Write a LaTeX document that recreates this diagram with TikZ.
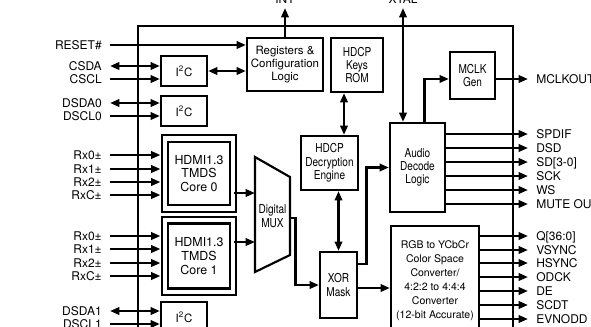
\documentclass[tikz,border=0pt]{standalone}
\usepackage{fontspec}
\setmainfont{TeX Gyre Heros}
\newfontfamily\narrowfont[FakeStretch=0.82]{TeX Gyre Heros}
\usetikzlibrary{arrows.meta}

\begin{document}
\begin{tikzpicture}[x=0.75pt,y=-0.75pt,
  blk/.style={draw,line width=1.6pt,align=center,inner sep=0pt,font=\fontsize{8.6}{10}\selectfont},
  nblk/.style={blk,font=\narrowfont\fontsize{9.2}{10}\selectfont},
  core/.style={draw,line width=1.6pt,double,double distance=3.2pt,align=center,inner sep=0pt,
    font=\fontsize{9.3}{10.4}\selectfont},
  lbl/.style={inner sep=6pt,text height=6.5pt,text depth=0pt,font=\fontsize{9}{9}\selectfont},
  sig/.style={line width=2.2pt,-{Triangle[length=7pt,width=5.5pt]}},
  bus/.style={line width=2.2pt,{Triangle[length=7pt,width=5.5pt]}-{Triangle[length=7pt,width=5.5pt]}},
  rx/.style={sig,shorten >=2.6pt}]
  \useasboundingbox (0,0) rectangle (591,326);
  \clip (0,0) rectangle (591,326);
  % chip outline
  \draw[line width=1.2pt] (138,26) rectangle (513,345);
  % blocks
  \node[blk,minimum width=57pt,minimum height=39.75pt] (regs) at (285,64.5) {Registers \&\\Configuration\\Logic};
  \node[nblk,minimum width=39pt,minimum height=40.5pt] (keys) at (357,65) {HDCP\\Keys\\ROM};
  \node[blk,minimum width=34.5pt,minimum height=22.5pt] (i2ca) at (184,71) {I\textsuperscript{2}C};
  \node[blk,minimum width=34.5pt,minimum height=22.5pt] (i2cb) at (184,111) {I\textsuperscript{2}C};
  \node[blk,minimum width=34.5pt,minimum height=22.5pt] (i2cc) at (184,317) {I\textsuperscript{2}C};
  \node[core,minimum width=51pt,minimum height=52.5pt] (core0) at (199,173.5) {HDMI1.3\\TMDS\\Core 0};
  \node[core,minimum width=51pt,minimum height=53.6pt] (core1) at (199,256) {HDMI1.3\\TMDS\\Core 1};
  \node[nblk,minimum width=42.75pt,minimum height=40.5pt] (dec) at (329.5,163) {HDCP\\Decryption\\Engine};
  \node[nblk,minimum width=27.75pt,minimum height=49.5pt] (xor) at (338.5,285) {XOR\\Mask};
  \node[nblk,minimum width=41.25pt,minimum height=66.75pt] (audio) at (417.5,167.5) {Audio\\Decode\\Logic};
  \node[nblk,minimum width=33.75pt,minimum height=35.25pt] (mclk) at (472.5,75.5) {MCLK\\Gen};
  \node[blk,font=\fontsize{7.9}{10.5}\selectfont,minimum width=66pt,minimum height=82.5pt] (rgb) at (435,281)
    {RGB to YCbCr\\Color Space\\Converter/\\4:2:2 to 4:4:4\\Converter\\(12-bit Accurate)};
  % digital mux
  \draw[line width=1.6pt] (255,157) -- (290,177) -- (290,255) -- (255,272) -- cycle;
  \node[align=center,font=\narrowfont\fontsize{9.2}{10}\selectfont] (mux) at (272.5,216) {Digital\\MUX};
  \coordinate (muxin0) at (255,193);
  \coordinate (muxin1) at (255,242);
  \coordinate (muxout) at (290,218);
  % pins, left side
  \foreach \nm/\txt/\y in {reset/RESET\#/45, csda/CSDA/66, cscl/CSCL/79, dsda0/DSDA0/103, dscl0/DSCL0/116,
      rxa0/Rx0±/155, rxa1/Rx1±/169, rxa2/Rx2±/182, rxac/RxC±/195,
      rxb0/Rx0±/236, rxb1/Rx1±/249, rxb2/Rx2±/263, rxbc/RxC±/276, dsda1/DSDA1/311, dscl1/DSCL1/324}
    \node[lbl,anchor=east] (\nm) at (110,\y) {\txt};
  % pins, right side
  \foreach \nm/\txt/\y in {mclkout/MCLKOUT/79, spdif/SPDIF/134, dsd/DSD/148, sd/{SD[3-0]}/162, sck/SCK/176,
      ws/WS/190, mute/MUTE OUT/204, q/{Q[36:0]}/236, vsync/VSYNC/250, hsync/HSYNC/263, odck/ODCK/277,
      de/DE/291, scdt/SCDT/305, evnodd/EVNODD/319}
    \node[lbl,anchor=west] (\nm) at (528,\y) {\txt};
  % pins, top
  \node[lbl,anchor=south,inner sep=3pt] (int) at (285,8) {INT};
  \node[lbl,anchor=south,inner sep=3pt] (xtal) at (403,8) {XTAL};
  % inputs
  \draw[sig] (reset.east) -- (regs.west |- reset.east);
  \draw[bus] (csda.east) -- (i2ca.west |- csda.east);
  \draw[sig] (cscl.east) -- (i2ca.west |- cscl.east);
  \draw[bus] (dsda0.east) -- (i2cb.west |- dsda0.east);
  \draw[sig] (dscl0.east) -- (i2cb.west |- dscl0.east);
  \draw[bus] (dsda1.east) -- (i2cc.west |- dsda1.east);
  \draw[sig] (dscl1.east) -- (i2cc.west |- dscl1.east);
  \foreach \nm in {rxa0,rxa1,rxa2,rxac}
    \draw[rx] (\nm.east) -- (core0.west |- \nm.east);
  \foreach \nm in {rxb0,rxb1,rxb2,rxbc}
    \draw[rx] (\nm.east) -- (core1.west |- \nm.east);
  % internal paths
  \draw[bus] (i2ca.east) -- (regs.west |- i2ca.east);
  \draw[sig] (regs.north) -- (int.south);
  \draw[bus] (xtal.south |- audio.north) -- (xtal.south);
  \draw[bus] ([xshift=-9.75pt]keys.south) -- ([xshift=-9.75pt]keys.south |- dec.north);
  \draw[bus] (xor.north |- dec.south) -- (xor.north);
  \draw[sig] (core0.east |- muxin0) -- (muxin0);
  \draw[sig] (core1.east |- muxin1) -- (muxin1);
  \draw[sig] (muxout) -| ([xshift=-17.25pt]xor.west) -- (xor.west);
  \draw[sig] ([yshift=15.75pt]xor.east) -| ([xshift=-16.5pt]audio.west) -- (audio.west);
  \draw[sig] ([yshift=-2.25pt]xor.east) -- (rgb.west |- 0,288);
  \draw[sig] ([xshift=4.9pt]audio.north) |- ([yshift=-2.6pt]mclk.west);
  % outputs
  \draw[sig] (mclk.east |- mclkout.west) -- (mclkout.west);
  \foreach \nm in {spdif,dsd,sd,sck,ws,mute}
    \draw[sig] (audio.east |- \nm.west) -- (\nm.west);
  \foreach \nm in {q,vsync,hsync,odck,de,scdt,evnodd}
    \draw[sig] (rgb.east |- \nm.west) -- (\nm.west);
\end{tikzpicture}
\end{document}
